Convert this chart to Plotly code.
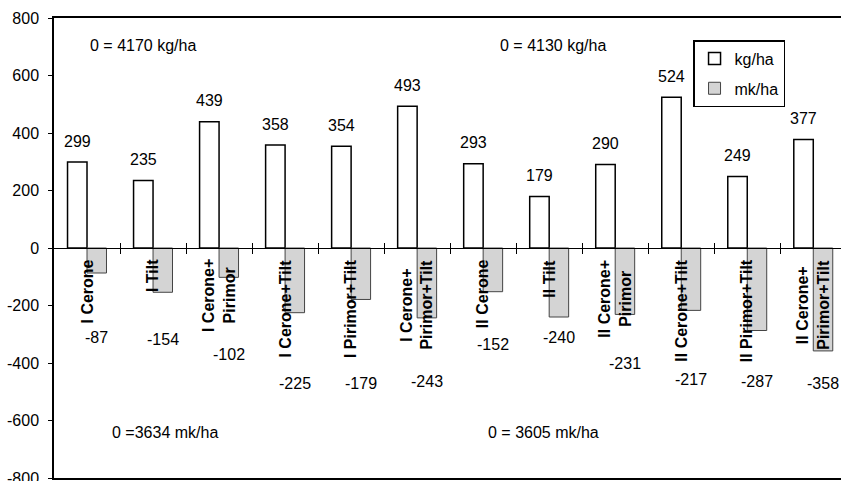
import plotly.graph_objects as go

categories = ["I Cerone", "I Tilt", "I Cerone+<br>Pirimor", "I Cerone+Tilt", "I Pirimor+Tilt",
              "I Cerone+<br>Pirimor+Tilt", "II Cerone", "II Tilt", "II Cerone+<br>Pirimor",
              "II Cerone+Tilt", "II Pirimor+Tilt", "II Cerone+<br>Pirimor+Tilt"]
kg_ha = [299, 235, 439, 358, 354, 493, 293, 179, 290, 524, 249, 377]
mk_ha = [-87, -154, -102, -225, -179, -243, -152, -240, -231, -217, -287, -358]
# vertical placement of the negative value labels (data units)
mk_label_y = [-313, -317, -369, -473, -473, -463, -337, -313, -403, -459, -463, -470]

y_ticks = [-800, -600, -400, -200, 0, 200, 400, 600, 800]
y_ticktext = ["-800", "-600", "-400", "-200", "0", "200", "400", "600", "800"]

notes = ["0 = 4170 kg/ha", "0 = 4130 kg/ha", "0 =3634 mk/ha", "0 = 3605 mk/ha"]
notes_x = [0.85, 7.06, 1.18, 6.91]
notes_y = [703, 703, -643, -643]

FONT = "Liberation Sans, Arial, sans-serif"
FS = 16
xs = list(range(len(categories)))

fig = go.Figure()
fig.add_trace(go.Bar(x=xs, y=kg_ha, name="kg/ha", marker=dict(color="white", line=dict(color="black", width=1.5)),
                     legendgroup="a"))
fig.add_trace(go.Bar(x=xs, y=mk_ha, name="mk/ha", marker=dict(color="#d4d4d4", line=dict(color="#444444", width=1)),
                     legendgroup="b"))

ann = []
for i, c in enumerate(categories):
    ann.append(dict(x=i, y=-33, xref="x", yref="y", text="<b>" + c + "</b>", textangle=-90,
                    showarrow=False, xanchor="center", yanchor="top", align="center",
                    font=dict(family=FONT, size=FS, color="black")))
for i, v in enumerate(kg_ha):
    ann.append(dict(x=i - 0.1475, y=v, xref="x", yref="y", text=str(v), showarrow=False,
                    yanchor="middle", yshift=21, font=dict(family=FONT, size=FS, color="black")))
for i, v in enumerate(mk_ha):
    ann.append(dict(x=i + 0.1475, y=mk_label_y[i], xref="x", yref="y", text=str(v), showarrow=False,
                    yanchor="middle", font=dict(family=FONT, size=FS, color="black")))
for t, x, y in zip(notes, notes_x, notes_y):
    ann.append(dict(x=x, y=y, xref="x", yref="y", text=t, showarrow=False,
                    font=dict(family=FONT, size=FS, color="black")))

bounds = [i + 0.5 for i in range(len(categories))]
xr = [-0.5, 11.42]
fig.update_layout(
    width=841, height=481,
    margin=dict(l=54, r=0, t=18, b=3, autoexpand=False),
    paper_bgcolor="white", plot_bgcolor="white",
    barmode="group", bargap=0.41, bargroupgap=0,
    font=dict(family=FONT, size=FS, color="black"),
    annotations=ann,
    legend=dict(x=0.812, y=0.952, xanchor="left", yanchor="top", bgcolor="white",
                bordercolor="black", borderwidth=1.5, font=dict(family=FONT, size=FS),
                tracegroupgap=6, itemwidth=30),
    xaxis=dict(range=xr, showline=True, linecolor="black", linewidth=2, mirror=True, automargin=False,
               showticklabels=False, ticks="", showgrid=False, zeroline=False),
    xaxis2=dict(range=xr, overlaying="x", anchor="free", position=0.5, showline=True, automargin=False,
                linecolor="black", linewidth=1, ticks="outside", ticklen=5, tickcolor="black",
                tickmode="array", tickvals=bounds, showticklabels=False, showgrid=False, zeroline=False),
    xaxis3=dict(range=xr, overlaying="x", anchor="free", position=0.5, showline=False, automargin=False,
                ticks="inside", ticklen=5, tickcolor="black",
                tickmode="array", tickvals=bounds, showticklabels=False, showgrid=False, zeroline=False),
    yaxis=dict(range=[-800, 800], tickmode="array", tickvals=y_ticks, ticktext=y_ticktext, automargin=False,
               showline=True, linecolor="black", linewidth=1.5, ticks="outside", ticklen=4,
               tickcolor="black", showgrid=False, zeroline=False, ticklabeloverflow="allow",
               ticklabelstandoff=6,
               tickfont=dict(family=FONT, size=FS, color="black")),
)
# invisible helper traces to activate overlay axes
fig.add_trace(go.Scatter(x=[0], y=[0], xaxis="x2", mode="markers", marker=dict(opacity=0), showlegend=False, hoverinfo="skip"))
fig.add_trace(go.Scatter(x=[0], y=[0], xaxis="x3", mode="markers", marker=dict(opacity=0), showlegend=False, hoverinfo="skip"))
fig.write_html("out.html")
